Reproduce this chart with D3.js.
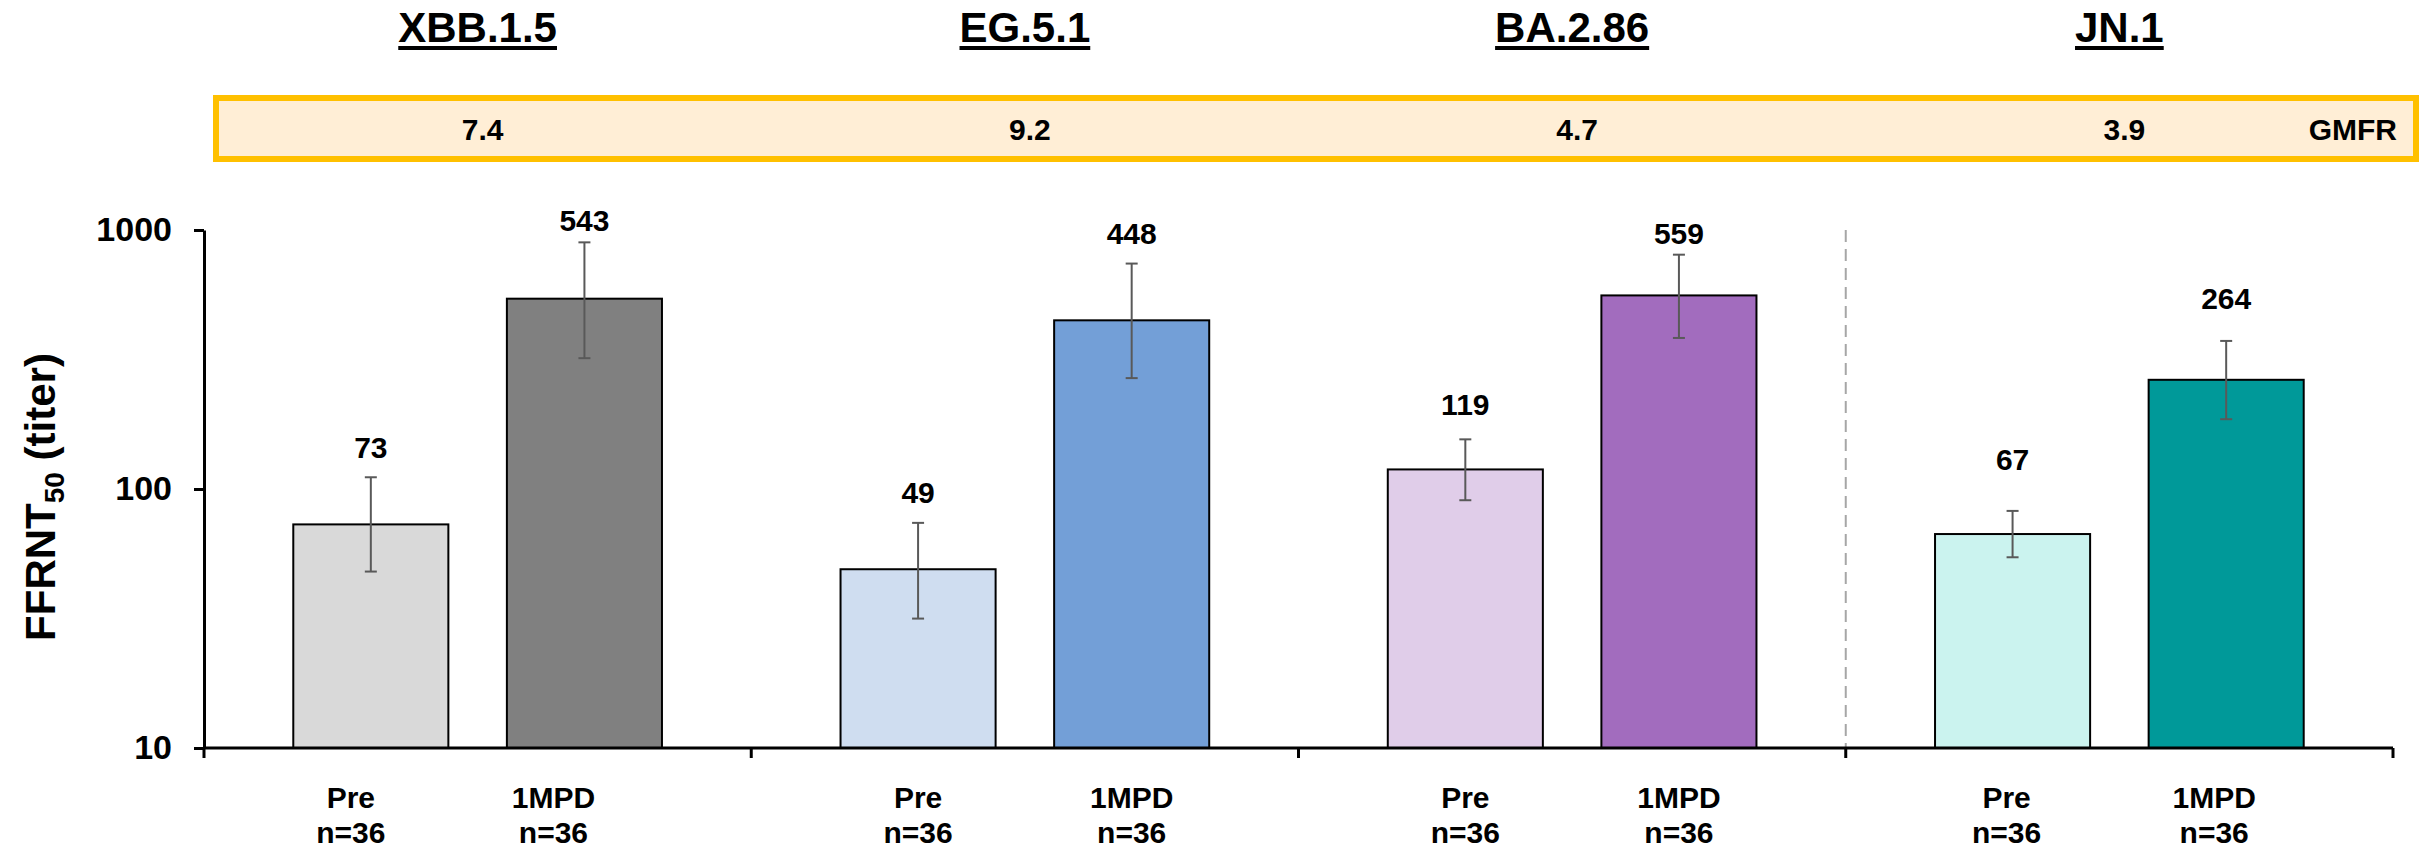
<!DOCTYPE html>
<html>
<head>
<meta charset="utf-8">
<script src="https://cdn.jsdelivr.net/npm/d3@7"></script>
<style>
  body { margin: 0; background: #fff; }
  svg text { font-family: "Liberation Sans", Arial, sans-serif; font-weight: bold; fill: #000; }
</style>
</head>
<body>
<svg id="chart" width="2425" height="850"></svg>
<script>
// data
const variants = ['XBB.1.5', 'EG.5.1', 'BA.2.86', 'JN.1'];
const timepoints = ['Pre', '1MPD'];
const gmfr = ['7.4', '9.2', '4.7', '3.9'];
const preTiter = [73, 49, 119, 67];
const postTiter = [543, 448, 559, 264];
const preLow = [48, 31.6, 90.5, 54.5];
const preHigh = [111, 74, 155.5, 82.3];
const postLow = [320, 268, 383, 186];
const postHigh = [896, 742, 803, 373];
const sampleSize = [36, 36, 36, 36];
const yTicks = [10, 100, 1000];

// colours
const preColors = ['#D9D9D9', '#CFDDF0', '#E0CDE9', '#CBF3EF'];
const postColors = ['#808080', '#739FD7', '#A26CBE', '#009999'];

const svg = d3.select('#chart');
const plotLeft = 204, plotRight = 2393, plotTop = 230, plotBottom = 748;

const y = d3.scaleLog().domain([10, 1000]).range([plotBottom, plotTop]);
const x = d3.scaleBand().domain(variants).range([plotLeft, plotRight]).padding(0);
const xi = d3.scaleBand().domain(timepoints).range([0, x.bandwidth()])
  .paddingInner(0.274).paddingOuter(0.418);

// flatten into bars
const bars = [];
variants.forEach((v, i) => {
  bars.push({ v, i, t: 'Pre', val: preTiter[i], lo: preLow[i], hi: preHigh[i], fill: preColors[i], n: sampleSize[i] });
  bars.push({ v, i, t: '1MPD', val: postTiter[i], lo: postLow[i], hi: postHigh[i], fill: postColors[i], n: sampleSize[i] });
});
// gap between value label and error bar top (labels were placed by hand)
const labelGap = [19, 11, 20, 20, 24, 11, 41, 32];
// category labels in the first group sit a bit left of their bars
const catShift = [-20, -31, 0, 0, 0, 0, -6, -12];
const cx = d => x(d.v) + xi(d.t) + xi.bandwidth() / 2;

// variant titles
const titles = svg.append('g');
variants.forEach(v => {
  const t = titles.append('text')
    .attr('x', x(v) + x.bandwidth() / 2)
    .attr('y', 42)
    .attr('text-anchor', 'middle')
    .attr('font-size', 42)
    .text(v);
  const w = t.node().getComputedTextLength();
  titles.append('rect')
    .attr('x', x(v) + x.bandwidth() / 2 - w / 2)
    .attr('y', 46)
    .attr('width', w)
    .attr('height', 4)
    .attr('fill', '#000');
});

// GMFR strip
svg.append('rect')
  .attr('x', 216).attr('y', 98)
  .attr('width', 2200).attr('height', 61)
  .attr('fill', '#FFEED6')
  .attr('stroke', '#FFC000')
  .attr('stroke-width', 6);
svg.append('g').selectAll('text')
  .data(variants)
  .join('text')
  .attr('x', (d, i) => x(d) + x.bandwidth() / 2 + 5)
  .attr('y', 140)
  .attr('text-anchor', 'middle')
  .attr('font-size', 30)
  .text((d, i) => gmfr[i]);
svg.append('text')
  .attr('x', 2397).attr('y', 140)
  .attr('text-anchor', 'end')
  .attr('font-size', 30)
  .text('GMFR');

// dashed separator before JN.1
svg.append('line')
  .attr('x1', x('JN.1')).attr('x2', x('JN.1'))
  .attr('y1', plotTop).attr('y2', plotBottom)
  .attr('stroke', '#A6A6A6')
  .attr('stroke-width', 2)
  .attr('stroke-dasharray', '12,7');

// bars
svg.append('g').selectAll('rect')
  .data(bars)
  .join('rect')
  .attr('x', d => x(d.v) + xi(d.t))
  .attr('y', d => y(d.val))
  .attr('width', xi.bandwidth())
  .attr('height', d => y(10) - y(d.val))
  .attr('fill', d => d.fill)
  .attr('stroke', '#000')
  .attr('stroke-width', 2);

// error bars
const err = svg.append('g').attr('stroke', '#595959').attr('stroke-width', 2);
err.selectAll('.stem').data(bars).join('line')
  .attr('x1', cx).attr('x2', cx)
  .attr('y1', d => y(d.lo)).attr('y2', d => y(d.hi));
err.selectAll('.capHi').data(bars).join('line')
  .attr('x1', d => cx(d) - 6).attr('x2', d => cx(d) + 6)
  .attr('y1', d => y(d.hi)).attr('y2', d => y(d.hi));
err.selectAll('.capLo').data(bars).join('line')
  .attr('x1', d => cx(d) - 6).attr('x2', d => cx(d) + 6)
  .attr('y1', d => y(d.lo)).attr('y2', d => y(d.lo));

// value labels
svg.append('g').selectAll('text')
  .data(bars)
  .join('text')
  .attr('x', cx)
  .attr('y', (d, k) => y(d.hi) - labelGap[k])
  .attr('text-anchor', 'middle')
  .attr('font-size', 30)
  .text(d => d.val);

// y axis
const yAxis = d3.axisLeft(y)
  .tickValues(yTicks)
  .tickFormat(d3.format('d'))
  .tickSize(10)
  .tickSizeOuter(0)
  .tickPadding(22);
const ya = svg.append('g').attr('transform', `translate(${plotLeft},0)`).call(yAxis);
ya.select('.domain').attr('stroke', '#000').attr('stroke-width', 3);
ya.selectAll('.tick line').attr('stroke', '#000').attr('stroke-width', 3);
ya.selectAll('.tick text')
  .attr('font-size', 34)
  .attr('font-family', '"Liberation Sans", Arial, sans-serif')
  .attr('font-weight', 'bold')
  .attr('fill', '#000');

// x axis: baseline with ticks at category boundaries
const bounds = variants.map(v => x(v)).concat([plotRight]);
const xa = svg.append('g').attr('stroke', '#000').attr('stroke-width', 3);
xa.append('line').attr('x1', plotLeft).attr('x2', plotRight).attr('y1', plotBottom).attr('y2', plotBottom);
xa.selectAll('.tk').data(bounds).join('line')
  .attr('x1', d => d).attr('x2', d => d)
  .attr('y1', plotBottom).attr('y2', plotBottom + 10);

// category labels
const cat = svg.append('g').selectAll('text')
  .data(bars)
  .join('text')
  .attr('text-anchor', 'middle')
  .attr('font-size', 30);
cat.append('tspan')
  .attr('x', (d, k) => cx(d) + catShift[k])
  .attr('y', 808)
  .text(d => d.t);
cat.append('tspan')
  .attr('x', (d, k) => cx(d) + catShift[k])
  .attr('y', 843)
  .text(d => 'n=' + d.n);

// y axis title
const yt = svg.append('text')
  .attr('transform', `translate(55,${(plotTop + plotBottom) / 2 + 8}) rotate(-90)`)
  .attr('text-anchor', 'middle')
  .attr('font-size', 42);
yt.append('tspan').text('FFRNT');
yt.append('tspan').attr('font-size', 28).attr('dy', 9).text('50');
yt.append('tspan').attr('dy', -9).text(' (titer)');
</script>
</body>
</html>
